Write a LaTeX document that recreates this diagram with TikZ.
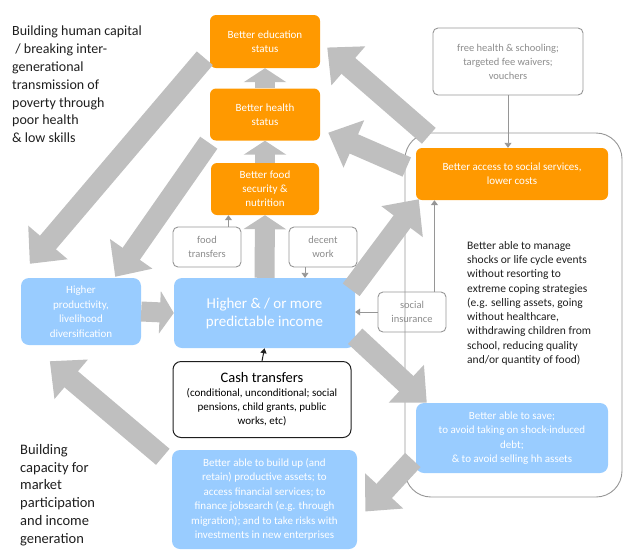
\documentclass[tikz,border=0pt]{standalone}
\usepackage{fontspec}
\setmainfont{Carlito}
\usetikzlibrary{arrows.meta}

\definecolor{orangefill}{RGB}{255,153,0}
\definecolor{bluefill}{RGB}{153,204,255}
\definecolor{arrowgrey}{RGB}{191,191,191}
\definecolor{boxgrey}{RGB}{150,150,150}
\definecolor{textgrey}{RGB}{140,140,140}
\definecolor{darktext}{RGB}{30,30,30}

\tikzset{
  orangebox/.style={rounded corners=6pt, fill=orangefill, text=white, align=center, inner sep=0pt,
    font=\fontsize{11}{14}\selectfont},
  bluebox/.style={rounded corners=8pt, fill=bluefill, text=white, align=center, inner sep=0pt,
    font=\fontsize{11}{14.5}\selectfont},
  greybox/.style={rounded corners=5pt, draw=boxgrey, line width=0.9pt, text=textgrey, align=center, inner sep=0pt,
    font=\fontsize{10.5}{14}\selectfont},
  fat/.style={line width=21pt, draw=arrowgrey, -{Triangle[length=28pt,width=50pt]}},
  stubby/.style={line width=20pt, draw=arrowgrey, -{Triangle[length=14pt,width=42pt]}},
  thinarrow/.style={draw=boxgrey, line width=0.9pt, -{Triangle[length=5pt,width=7pt]}},
  sidetext/.style={anchor=north west, align=left, text=darktext, inner sep=0pt},
}

\begin{document}
\begin{tikzpicture}[x=1pt, y=-1pt]
        \useasboundingbox (0,0) rectangle (623,550);

        % outcome boxes
        \node[orangebox, minimum width=110pt, minimum height=53pt] (Edu) at (265,41.5) {Better education\\status};
        \node[orangebox, minimum width=110pt, minimum height=52pt] (Health) at (265,114.5) {Better health\\status};
        \node[orangebox, minimum width=108pt, minimum height=52pt] (Food) at (265,189) {Better food\\security \&\\nutrition};
        \node[greybox, minimum width=68pt, minimum height=40pt] (FoodTr) at (207,247) {food\\transfers};
        \node[greybox, minimum width=68pt, minimum height=40pt] (Decent) at (323,247) {decent\\work};

        \node[bluebox, minimum width=120pt, minimum height=67pt] (Prod) at (81,311.5) {Higher\\productivity,\\livelihood\\diversification};
        \node[bluebox, minimum width=181pt, minimum height=70pt, font=\fontsize{15}{18}\selectfont] (Income) at (264.5,313) {Higher \& / or more\\predictable income};
        \node[rounded corners=8pt, draw=darktext, line width=1pt, align=center, inner sep=0pt,
              minimum width=178pt, minimum height=76pt, font=\fontsize{11}{14}\selectfont] (Cash) at (262,399.5)
              {{\fontsize{14.5}{18}\selectfont Cash transfers}\\(conditional, unconditional; social\\pensions, child grants, public\\works, etc)};
        \node[bluebox, minimum width=185pt, minimum height=99pt] (Build) at (264.5,499.5) {Better able to build up (and\\retain) productive assets; to\\access financial services; to\\finance jobsearch (e.g. through\\migration); and to take risks with\\investments in new enterprises};

        % right hand panel
        \node[draw=boxgrey, line width=0.9pt, rounded corners=26pt, minimum width=217pt, minimum height=364pt] (Panel) at (513.5,315) {};
        \node[greybox, minimum width=150pt, minimum height=67pt] (Free) at (508,61.5) {free health \& schooling;\\targeted fee waivers;\\vouchers};
        \node[orangebox, minimum width=192pt, minimum height=52pt] (Access) at (512,174) {Better access to social services,\\lower costs};
        \node[sidetext, font=\fontsize{11.5}{14.3}\selectfont] (Manage) at (467,241) {Better able to manage\\shocks or life cycle events\\without resorting to\\extreme coping strategies\\(e.g. selling assets, going\\without healthcare,\\withdrawing children from\\school, reducing quality\\and/or quantity of food)};
        \node[greybox, minimum width=68pt, minimum height=40pt] (SocIns) at (412,312) {social\\insurance};
        \node[bluebox, minimum width=192pt, minimum height=70pt] (Save) at (512,438) {Better able to save;\\to avoid taking on shock-induced\\debt;\\\& to avoid selling hh assets};

        % side captions
        \node[sidetext, font=\fontsize{14}{17.8}\selectfont] (HumanCap) at (12,26) {Building human capital\\\ / breaking inter-\\generational\\transmission of\\poverty through\\poor health\\\& low skills};
        \node[sidetext, font=\fontsize{14.5}{17.8}\selectfont] (Market) at (20,444) {Building\\capacity for\\market\\participation\\and income\\generation};

        % big grey arrows
        \draw[stubby] (Income.north) -- (Food.south);
        \draw[stubby] (Food.north) -- (Health.south);
        \draw[stubby] (Health.north) -- (Edu.south);
        \draw[stubby] (Prod.east) -- (Income.west);
        \draw[fat] ([xshift=-5pt,yshift=10pt]Edu.south west) -- ([xshift=9pt,yshift=14pt]Prod.north west);
        \draw[fat] ([xshift=-1pt,yshift=-2pt]Health.south west) -- ([xshift=-26pt,yshift=1pt]Prod.north east);
        \draw[fat] ([xshift=13pt,yshift=12pt]Access.north west) -- ([xshift=7pt,yshift=-6pt]Edu.east);
        \draw[fat] ([xshift=-9pt,yshift=7pt]Access.west) -- ([xshift=8pt,yshift=8pt]Health.south east);
        \draw[fat] ([xshift=-4pt,yshift=-12pt]Income.north east) -- ([xshift=3pt,yshift=1pt]Access.south west);
        \draw[fat] ([yshift=12pt]Income.south east) -- ([xshift=11pt]Save.north west);
        \draw[fat] ([xshift=-3pt,yshift=-22pt]Save.west) -- ([xshift=8pt,yshift=-12pt]Build.east);
        \draw[fat] ([xshift=-9pt,yshift=-7pt]Build.north west) -- ([xshift=29pt,yshift=-16pt]Prod.south west);

        % thin arrows
        \draw[thinarrow] ([xshift=-13pt]FoodTr.north east) -- ([xshift=-13pt]FoodTr.north east |- Food.south);
        \draw[thinarrow] ([xshift=-18pt]Decent.south) -- ([xshift=-18pt]Decent.south |- Income.north);
        \draw[thinarrow] (Free.south) -- (Free.south |- Access.north);
        \draw[thinarrow] (SocIns.west) -- (SocIns.west -| Income.east);
        \draw[thinarrow] ([xshift=-12pt]SocIns.north east) -- ([xshift=-12pt]SocIns.north east |- Access.south);
        \draw[-{Triangle[length=5pt,width=6pt]}, line width=1pt, darktext] (Cash.north) -- (Income.south);
\end{tikzpicture}
\end{document}
